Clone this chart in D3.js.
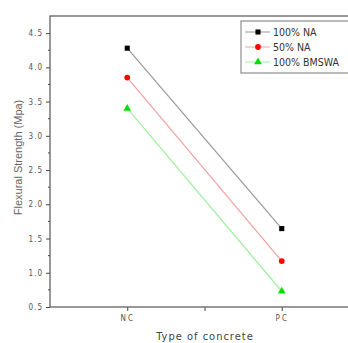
<!DOCTYPE html>
<html>
<head>
<meta charset="utf-8">
<script src="https://cdn.jsdelivr.net/npm/d3@7"></script>
<style>
  body { margin: 0; background: #fff; }
  svg { display: block; }
</style>
</head>
<body>
<div id="chart"></div>
<script>
const categories = ['NC', 'PC'];
const seriesNames = ['100% NA', '50% NA', '100% BMSWA'];
const na100 = [4.28, 1.645];
const na50 = [3.85, 1.17];
const bmswa = [3.40, 0.73];
const yTicks = [0.5, 1.0, 1.5, 2.0, 2.5, 3.0, 3.5, 4.0, 4.5];

const W = 348, H = 343;
const margin = { top: 16, left: 50, bottom: 36 };
const plotRight = 359;

const svg = d3.select('#chart').append('svg')
    .attr('width', W)
    .attr('height', H);

const x = d3.scaleLinear().domain([-0.5, 1.5]).range([margin.left, plotRight]);
const y = d3.scaleLinear().domain([0.5, 4.75]).range([H - margin.bottom, margin.top]);

const tickFont = '"Liberation Sans Narrow", "DejaVu Sans Condensed", Arial, sans-serif';

// y axis
const yAxis = svg.append('g')
    .attr('transform', `translate(${margin.left},0)`)
    .call(d3.axisLeft(y).tickValues(yTicks).tickSize(4).tickFormat(d3.format('.1f')));
yAxis.select('.domain').remove();
yAxis.selectAll('line').attr('stroke', '#444');
yAxis.selectAll('text')
    .attr('fill', '#555')
    .style('font-family', tickFont)
    .style('font-size', '8px')
    .style('letter-spacing', '1px')
    .attr('x', -7);

// minor y ticks
svg.append('g').selectAll('line')
    .data(d3.range(0.75, 4.75, 0.5))
    .join('line')
    .attr('x1', margin.left - 2).attr('x2', margin.left)
    .attr('y1', d => y(d)).attr('y2', d => y(d))
    .attr('stroke', '#444');

// x axis
const xAxis = svg.append('g')
    .attr('transform', `translate(0,${H - margin.bottom})`)
    .call(d3.axisBottom(x).tickValues([0, 0.5, 1]).tickSize(4)
        .tickFormat(d => Number.isInteger(d) ? categories[d] : ''));
xAxis.select('.domain').remove();
xAxis.selectAll('line').attr('stroke', '#444');
xAxis.selectAll('text')
    .attr('fill', '#555')
    .attr('y', 8)
    .style('font-family', tickFont)
    .style('font-size', '8px')
    .style('letter-spacing', '2px');

// frame
svg.append('rect')
    .attr('x', margin.left).attr('y', margin.top)
    .attr('width', plotRight - margin.left)
    .attr('height', H - margin.bottom - margin.top)
    .attr('fill', 'none')
    .attr('stroke', '#555')
    .attr('stroke-width', 1.2);

// axis titles
svg.append('text')
    .attr('transform', `translate(22,${(margin.top + H - margin.bottom) / 2 - 4}) rotate(-90)`)
    .attr('text-anchor', 'middle')
    .attr('fill', '#666')
    .style('font-family', 'Arial, "Liberation Sans", sans-serif')
    .style('font-size', '11px')
    .text('Flexural Strength (Mpa)');

svg.append('text')
    .attr('x', 205).attr('y', 340)
    .attr('text-anchor', 'middle')
    .attr('fill', '#444')
    .style('font-family', tickFont)
    .style('font-size', '11px')
    .style('letter-spacing', '1px')
    .text('Type of concrete');

const series = [
    { name: seriesNames[0], values: na100, line: '#999', mark: '#000', symbol: d3.symbolSquare },
    { name: seriesNames[1], values: na50, line: '#f2a0a0', mark: '#ff0000', symbol: d3.symbolCircle },
    { name: seriesNames[2], values: bmswa, line: '#9ff09f', mark: '#00e000', symbol: d3.symbolTriangle }
];

const line = d3.line().x((d, i) => x(i)).y(d => y(d));

series.forEach(s => {
    svg.append('path')
        .datum(s.values)
        .attr('d', line)
        .attr('fill', 'none')
        .attr('stroke', s.line)
        .attr('stroke-width', 1.2);
    svg.append('g').selectAll('path')
        .data(s.values)
        .join('path')
        .attr('transform', (d, i) => `translate(${x(i)},${y(d)})`)
        .attr('d', d3.symbol().type(s.symbol).size(26))
        .attr('fill', s.mark);
});

// legend
const lg = svg.append('g');
lg.append('rect')
    .attr('x', 241).attr('y', 21)
    .attr('width', 115).attr('height', 52)
    .attr('fill', '#fff')
    .attr('stroke', '#777')
    .attr('stroke-width', 1);

series.forEach((s, i) => {
    const ly = 32 + i * 15;
    lg.append('line')
        .attr('x1', 245).attr('x2', 270)
        .attr('y1', ly).attr('y2', ly)
        .attr('stroke', s.line);
    lg.append('path')
        .attr('transform', `translate(258,${ly})`)
        .attr('d', d3.symbol().type(s.symbol).size(26))
        .attr('fill', s.mark);
    lg.append('text')
        .attr('x', 273).attr('y', ly + 3.5)
        .attr('fill', '#333')
        .style('font-family', tickFont)
        .style('font-size', '10.5px')
        .text(s.name);
});
</script>
</body>
</html>
